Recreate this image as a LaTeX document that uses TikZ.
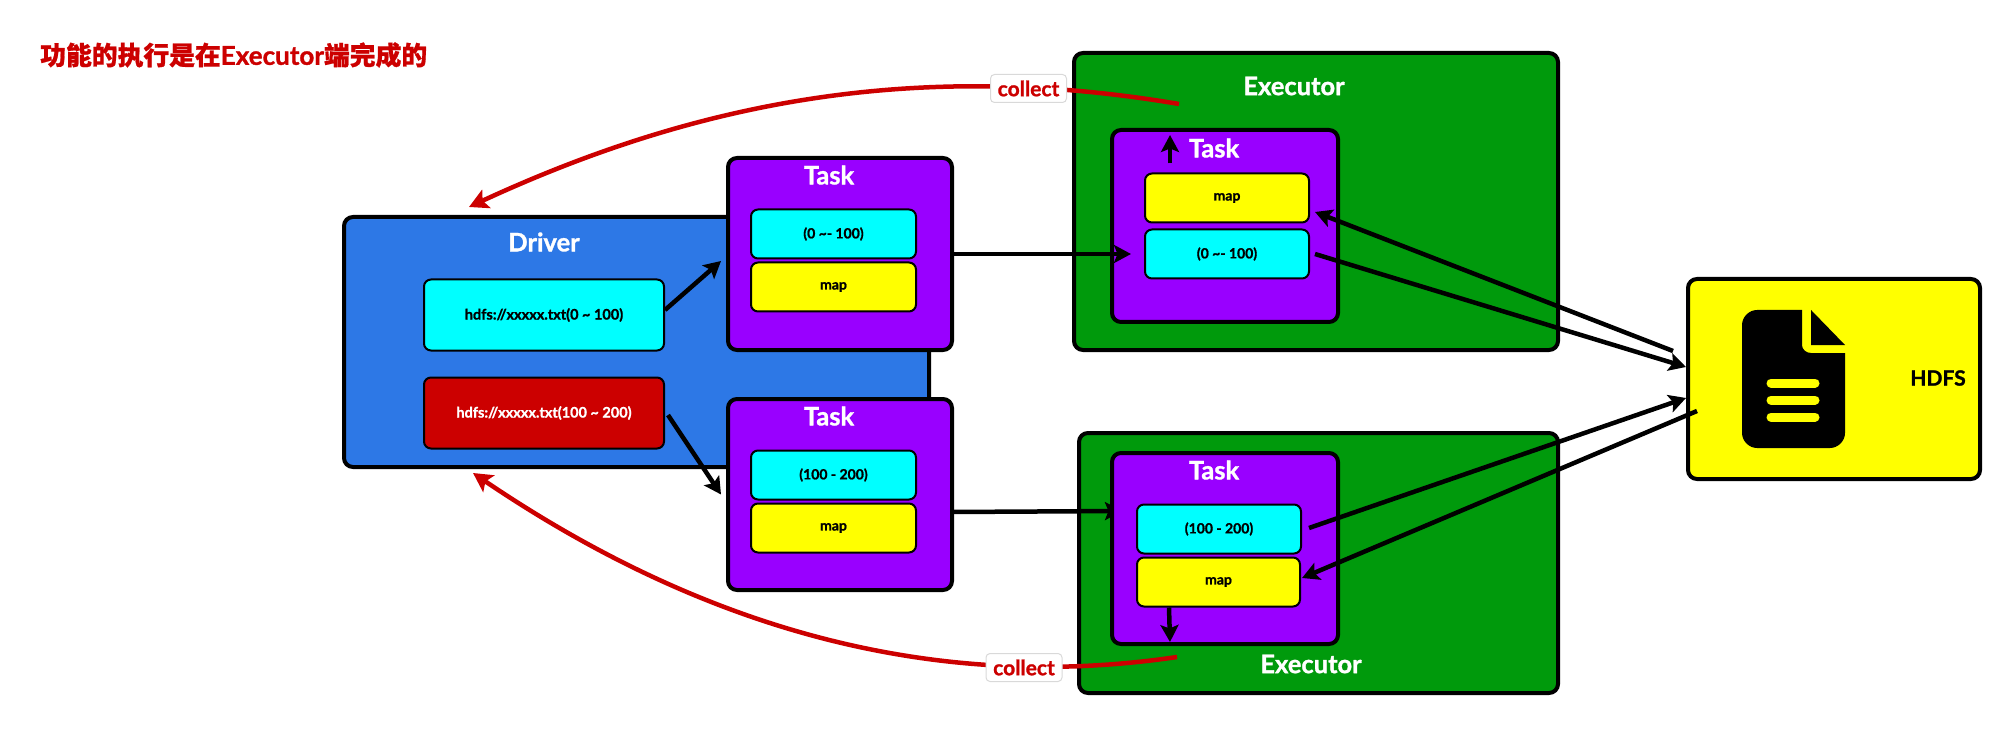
\documentclass[tikz,border=0pt]{standalone}
\usepackage{fontspec}
\setmainfont{Lato}[BoldFeatures={FakeBold=1.2}]
\newfontfamily\cjk{Noto Sans CJK SC}[BoldFeatures={FakeBold=0.8}]
\usetikzlibrary{arrows.meta}
\definecolor{driverblue}{HTML}{2D78E6}
\definecolor{execgreen}{HTML}{009A0C}
\definecolor{taskpurple}{HTML}{9900FF}
\definecolor{aqua}{HTML}{00FFFF}
\definecolor{yel}{HTML}{FFFF00}
\definecolor{redd}{HTML}{CC0000}
\tikzset{
  bigbox/.style={draw=black,line width=4pt,rounded corners=9pt,inner sep=0pt,outer sep=0pt},
  smallbox/.style={draw=black,line width=2pt,rounded corners=7pt,inner sep=0pt,outer sep=0pt,
     minimum width=165pt,minimum height=49pt,font=\fontsize{14}{14}\selectfont\bfseries},
  drvbox/.style={smallbox,minimum width=240pt,minimum height=71pt,font=\fontsize{14.5}{14.5}\selectfont\bfseries},
  whitelabel/.style={text=white,font=\fontsize{25.5}{25.5}\selectfont\bfseries,inner sep=0pt},
  flow/.style={draw=black,line width=4.5pt,-{Stealth[length=17pt,width=18pt,inset=3.5pt]}},
  back/.style={draw=redd,line width=4.5pt,-{Stealth[length=19pt,width=20pt,inset=4pt]}},
  collectlabel/.style={draw=black!15,fill=white,line width=1pt,rounded corners=4pt,text=redd,
     font=\fontsize{21}{21}\selectfont\bfseries,inner sep=0pt,minimum width=76pt,minimum height=28pt},
}
\begin{document}
\begin{tikzpicture}[x=1pt,y=-1pt]
\useasboundingbox (0,0) rectangle (1992,743);
\node[inner sep=0pt,text=redd,anchor=west] (title) at (40,55)
  {\cjk\bfseries\fontsize{25.8}{26}\selectfont 功能的执行是在{\rmfamily\bfseries\fontsize{26}{26}\selectfont Executor}端完成的};

% Driver
\node[bigbox,fill=driverblue,minimum width=585pt,minimum height=250pt] (drv) at (636.5,342) {};
\node[whitelabel] (drvt) at (544,242) {Driver};
\node[drvbox,fill=aqua] (dc) at (544,315) {hdfs://xxxxx.txt(0 \char`\~{} 100)};
\node[drvbox,fill=redd,text=white] (dr) at (544,413) {hdfs://xxxxx.txt(100 \char`\~{} 200)};

% Left tasks
\node[bigbox,fill=taskpurple,minimum width=224pt,minimum height=192pt] (t1) at (840,254) {};
\node[whitelabel] (t1t) at (829,175) {Task};
\node[smallbox,fill=aqua] (c1) at (833.5,234) {(0 \char`\~{}- 100)};
\node[smallbox,fill=yel] (m1) at (833.5,287) {map};
\node[bigbox,fill=taskpurple,minimum width=224pt,minimum height=191pt] (t2) at (840,494.5) {};
\node[whitelabel] (t2t) at (829,416) {Task};
\node[smallbox,fill=aqua] (c2) at (833.5,475) {(100 - 200)};
\node[smallbox,fill=yel] (m2) at (833.5,528) {map};

% Executors
\node[bigbox,fill=execgreen,minimum width=484pt,minimum height=297pt] (e1) at (1316,201.5) {};
\node[whitelabel] (e1t) at (1294,86) {Executor};
\node[bigbox,fill=execgreen,minimum width=479pt,minimum height=260pt] (e2) at (1318.5,563) {};
\node[whitelabel] (e2t) at (1311,664) {Executor};

% Right tasks
\node[bigbox,fill=taskpurple,minimum width=226pt,minimum height=192pt] (t3) at (1225,226) {};
\node[whitelabel] (t3t) at (1214,148) {Task};
\node[smallbox,fill=yel,minimum width=164pt] (m3) at (1227,198) {map};
\node[smallbox,fill=aqua,minimum width=164pt] (c3) at (1227,254) {(0 \char`\~{}- 100)};

% the arrow head of this connector sits behind the task box drawn next
\coordinate (t4in) at (1122,511);
\draw[flow] ([shift={(0,17.5)}]t2.east) -- (t4in);
\node[bigbox,fill=taskpurple,minimum width=226pt,minimum height=191pt] (t4) at (1225,548.5) {};
\node[whitelabel] (t4t) at (1214,470) {Task};
\node[smallbox,fill=aqua,minimum width=164pt] (c4) at (1219,529) {(100 - 200)};
\node[smallbox,fill=yel,minimum width=163pt] (m4) at (1218.5,582) {map};

% HDFS
\node[bigbox,fill=yel,minimum width=292pt,minimum height=200pt] (hd) at (1834,379) {};
\node[inner sep=0pt,font=\fontsize{21}{21}\selectfont\bfseries] (hdt) at (1938,378) {HDFS};
\fill[black] (1757,310) -- (1802,310) -- (1802,345) .. controls (1802,349.4) and (1806,353) .. (1811,353)
  -- (1845,353) -- (1845,433) .. controls (1845,441) and (1838,448) .. (1830,448)
  -- (1757,448) .. controls (1749,448) and (1742,441) .. (1742,433)
  -- (1742,325) .. controls (1742,317) and (1749,310) .. (1757,310) -- cycle;
\fill[black] (1811,310) -- (1845,345) -- (1811,345) -- cycle;
\draw[yel,line width=9pt,line cap=round] (1771,383) -- (1815,383);
\draw[yel,line width=9pt,line cap=round] (1771,400) -- (1815,400);
\draw[yel,line width=9pt,line cap=round] (1771,417) -- (1815,417);

% Black connectors
\draw[flow] ([shift={(1,-5)}]dc.east) -- ([shift={(-7,7)}]t1.west);
\draw[flow] ([shift={(4,2)}]dr.east) -- ([shift={(-7,0)}]t2.west);
\draw[flow] (t1.east) -- ([shift={(-14,0)}]c3.west);
\draw[flow] ([shift={(-57,-10)}]m3.north) -- ([shift={(-55,5)}]t3.north);
\draw[flow] ([shift={(-49.5,1)}]m4.south) -- ([shift={(-55,-2)}]t4.south);
\draw[flow] ([shift={(6,0)}]c3.east) -- ([shift={(-2,-12)}]hd.west);
\draw[flow] ([shift={(-15,-28)}]hd.west) -- ([shift={(6,14)}]m3.east);
\draw[flow] ([shift={(8,-1)}]c4.east) -- ([shift={(-2,19)}]hd.west);
\draw[flow] ([shift={(9,32)}]hd.west) -- ([shift={(2,-4)}]m4.east);

% Collect results
\coordinate (s1) at (1179,104);
\coordinate (s2) at (1177,657);
\draw[back] (s1) .. controls (920,60) and (700,100) .. ([shift={(-167.5,-10)}]drv.north);
\draw[back] (s2) .. controls (920,695) and (690,620) .. ([shift={(-163.5,6)}]drv.south);
\node[collectlabel] (l1) at (1028.5,88.5) {collect};
\node[collectlabel] (l2) at (1024,667.5) {collect};
\end{tikzpicture}
\end{document}
